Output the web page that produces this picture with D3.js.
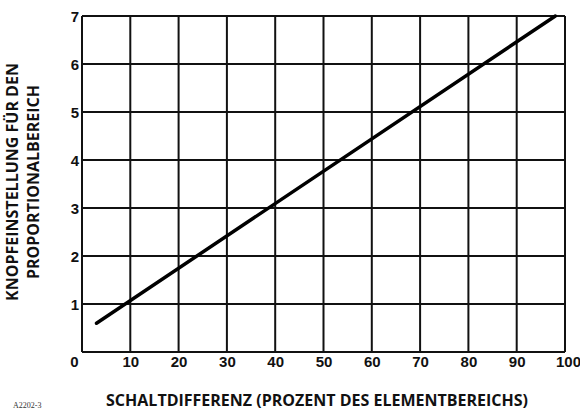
<!DOCTYPE html>
<html><head><meta charset="utf-8">
<script src="https://cdn.jsdelivr.net/npm/d3@7"></script>
<style>body{margin:0;background:#fff}svg{display:block}</style>
</head><body><svg id="c" width="580" height="411"></svg>
<script>
const xTicks = [0,10,20,30,40,50,60,70,80,90,100];
const yTicks = [1,2,3,4,5,6,7];
const linePoints = [[3,0.6],[98,7]];
const xTitle = "SCHALTDIFFERENZ (PROZENT DES ELEMENTBEREICHS)";
const yTitle = ["KNOPFEINSTELLUNG FÜR DEN","PROPORTIONALBEREICH"];
const note = "A2202-3";

const svg = d3.select("#c");
const L=82,R=565,T=16,B=352;
const x = d3.scaleLinear().domain([0,100]).range([L,R]);
const y = d3.scaleLinear().domain([0,7]).range([B,T]);
const tickFont = "Liberation Sans, Arial, sans-serif";

const g = svg.append("g");
g.selectAll("line.v").data(xTicks).join("line").attr("class","v")
 .attr("x1",d=>x(d)).attr("x2",d=>x(d)).attr("y1",T).attr("y2",B)
 .attr("stroke","#111").attr("stroke-width",2);
g.selectAll("line.h").data([0].concat(yTicks)).join("line").attr("class","h")
 .attr("y1",d=>y(d)).attr("y2",d=>y(d)).attr("x1",L).attr("x2",R)
 .attr("stroke","#111").attr("stroke-width",2);

const xa = d3.axisBottom(x).tickValues(xTicks).tickFormat(d3.format("d")).tickSize(0).tickPadding(0);
const xg = svg.append("g").attr("transform",`translate(0,${B+15})`).call(xa);
xg.select(".domain").remove();
xg.selectAll("text").attr("font-family",tickFont)
  .attr("font-weight","bold").attr("font-size",15).attr("fill","#111")
  .attr("dy","0").attr("dx",d=>d===0?-8:(d===100?3:0));

const ya = d3.axisLeft(y).tickValues(yTicks).tickFormat(d3.format("d")).tickSize(0).tickPadding(0);
const yg = svg.append("g").attr("transform",`translate(${L-3},0)`).call(ya);
yg.select(".domain").remove();
yg.selectAll("text").attr("font-family",tickFont)
  .attr("font-weight","bold").attr("font-size",15).attr("fill","#111").attr("dy","0.36em");

svg.append("path").datum(linePoints)
 .attr("d",d3.line().x(d=>x(d[0])).y(d=>y(d[1])))
 .attr("stroke","#000").attr("stroke-width",3.5).attr("fill","none").attr("stroke-linecap","round");

svg.append("text").attr("x",317).attr("y",406).attr("text-anchor","middle")
 .attr("font-family","Open Sans, sans-serif").attr("font-weight","bold")
 .attr("font-size",16).attr("fill","#111").text(xTitle);
const yt = svg.append("text").attr("transform","translate(0,182) rotate(-90)")
 .attr("text-anchor","middle").attr("font-family","Open Sans, sans-serif")
 .attr("font-weight","bold").attr("font-size",16).attr("fill","#111");
yTitle.forEach((t,i)=>yt.append("tspan").attr("x",0).attr("y",18+i*21).text(t));

svg.append("text").attr("x",13).attr("y",408).attr("font-family","Liberation Serif, serif")
 .attr("font-size",8).attr("fill","#333").text(note);
</script></body></html>
